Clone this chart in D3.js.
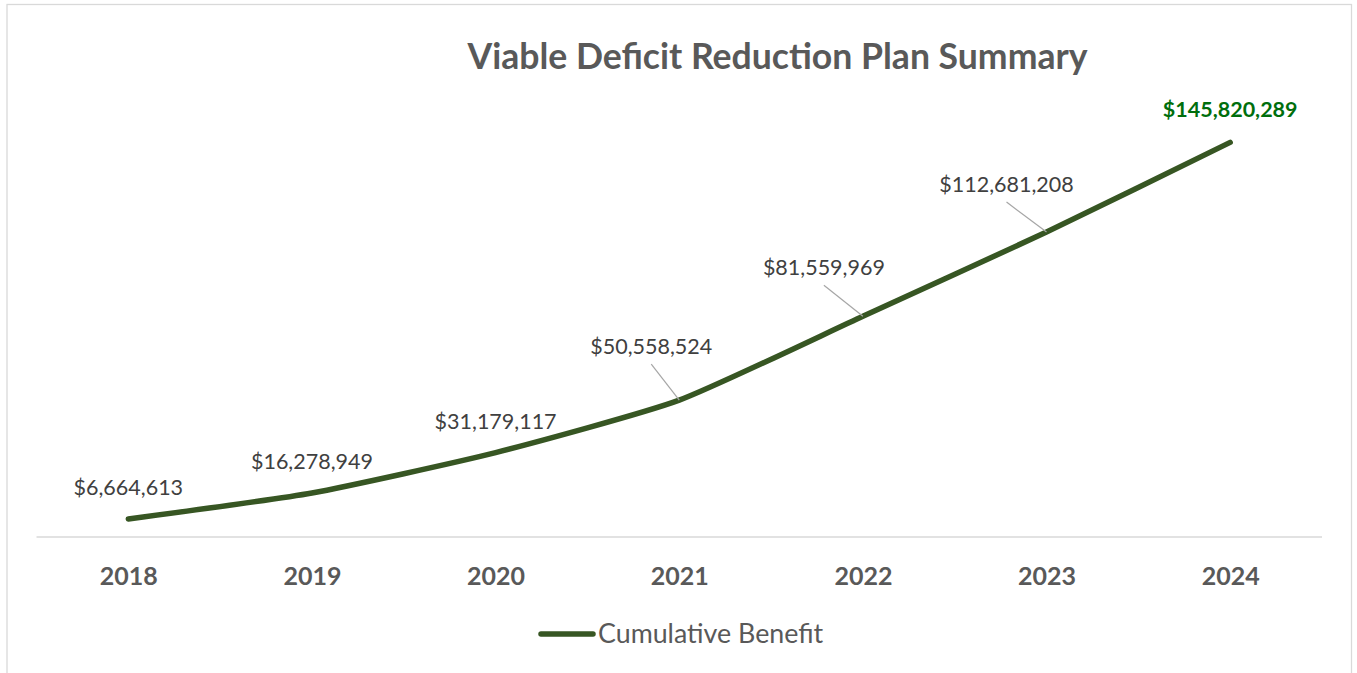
<!DOCTYPE html>
<html>
<head>
<meta charset="utf-8">
<script src="https://cdn.jsdelivr.net/npm/d3@7"></script>
<style>
  html, body { margin: 0; padding: 0; background: #ffffff; }
  svg { display: block; font-family: Lato, "Open Sans", sans-serif; }
</style>
</head>
<body>
<svg id="chart" width="1357" height="673"></svg>
<script>
// Chart content
const title = "Viable Deficit Reduction Plan Summary";
const seriesName = "Cumulative Benefit";
const years = ["2018", "2019", "2020", "2021", "2022", "2023", "2024"];
const cumulativeBenefit = [6664613, 16278949, 31179117, 50558524, 81559969, 112681208, 145820289];
const yDomain = [0, 160000000];

// Manual label nudges (px, relative to the default spot above each point)
const labelNudge = [[0, 0], [0, 0], [0, 0], [-28, -22], [-39, -17], [-40, -16], [0, -1]];

const svg = d3.select("#chart");
const W = 1357, H = 673;
const plot = { left: 36.5, right: 1322, top: 104, bottom: 537 };

// Outer chart border
svg.append("rect")
  .attr("x", 7).attr("y", 4.5)
  .attr("width", 1344.5).attr("height", H + 10)
  .attr("fill", "#ffffff")
  .attr("stroke", "#d9d9d9").attr("stroke-width", 1.3);

const x = d3.scalePoint().domain(years).range([plot.left, plot.right]).padding(0.5);
const y = d3.scaleLinear().domain(yDomain).range([plot.bottom, plot.top]);

// Title
svg.append("text")
  .attr("x", 777.5).attr("y", 69)
  .attr("text-anchor", "middle")
  .attr("font-size", 35.6).attr("font-weight", 700)
  .attr("fill", "#595959")
  .text(title);

// Category axis
const xAxis = svg.append("g")
  .attr("transform", `translate(0,${plot.bottom})`)
  .call(d3.axisBottom(x).tickSize(0).tickPadding(0));
xAxis.select(".domain").remove();
xAxis.append("line")
  .attr("x1", plot.left).attr("x2", plot.right)
  .attr("y1", 0).attr("y2", 0)
  .attr("stroke", "#d9d9d9").attr("stroke-width", 1.5);
xAxis.selectAll(".tick text")
  .attr("dy", null)
  .attr("y", 48)
  .attr("font-family", "Lato, 'Open Sans', sans-serif")
  .attr("font-size", 25).attr("font-weight", 700)
  .attr("fill", "#595959");

// Series line (smoothed)
const pts = years.map((yr, i) => ({ yr, v: cumulativeBenefit[i], i }));
const line = d3.line()
  .x(d => x(d.yr))
  .y(d => y(d.v))
  .curve(d3.curveCardinal.tension(0.45));

svg.append("path")
  .datum(pts)
  .attr("d", line)
  .attr("fill", "none")
  .attr("stroke", "#375623")
  .attr("stroke-width", 5.5)
  .attr("stroke-linecap", "round")
  .attr("stroke-linejoin", "round");

// Data labels with leader lines where nudged away
const fmt = v => "$" + d3.format(",")(v);
const labelGap = 24;
const labels = svg.append("g");
pts.forEach((d, i) => {
  const px = x(d.yr), py = y(d.v);
  const lx = px + labelNudge[i][0];
  const ly = py - labelGap + labelNudge[i][1];
  const last = i === pts.length - 1;
  if (Math.abs(labelNudge[i][0]) > 10) {
    labels.append("line")
      .attr("x1", lx).attr("y1", ly + 10)
      .attr("x2", px).attr("y2", py)
      .attr("stroke", "#a6a6a6").attr("stroke-width", 1.2);
  }
  labels.append("text")
    .attr("x", lx).attr("y", ly)
    .attr("text-anchor", "middle")
    .attr("font-size", 21.5)
    .attr("font-weight", last ? 700 : 400)
    .attr("fill", last ? "#006e0c" : "#404040")
    .text(fmt(d.v));
});

// Legend
const legend = svg.append("g");
legend.append("line")
  .attr("x1", 541).attr("x2", 593)
  .attr("y1", 634).attr("y2", 634)
  .attr("stroke", "#375623").attr("stroke-width", 5.5)
  .attr("stroke-linecap", "round");
legend.append("text")
  .attr("x", 598).attr("y", 643)
  .attr("font-size", 26.8)
  .attr("fill", "#595959")
  .text(seriesName);
</script>
</body>
</html>
